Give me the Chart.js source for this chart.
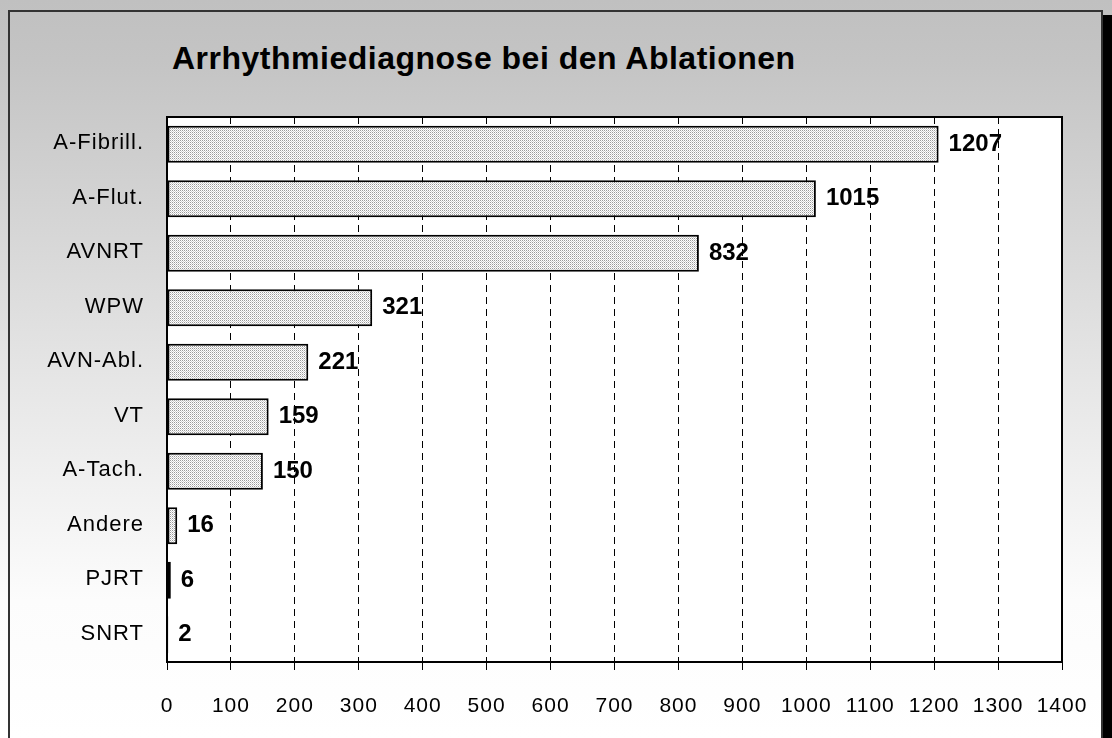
<!DOCTYPE html>
<html>
<head>
<meta charset="utf-8">
<script src="https://cdn.jsdelivr.net/npm/chart.js@4"></script>
<style>
  html, body { margin: 0; padding: 0; }
  body { width: 1112px; height: 738px; overflow: hidden; position: relative;
         background: linear-gradient(to bottom, #c0c0c0 0px, #c4c4c4 60px, #e6e6e6 380px, #fcfcfc 600px, #ffffff 738px); }
  #frame { position: absolute; left: 8px; top: 10px; width: 1091px; height: 740px;
           border: 2px solid #333; border-bottom: none; }
  #shadow { position: absolute; left: 1103px; top: 15px; width: 9px; height: 730px; background: #000; }
  #title { position: absolute; left: 172px; top: 40px; font: bold 32px "Liberation Sans", Arial, sans-serif;
           letter-spacing: 0.5px; color: #000; white-space: nowrap; }
  #wrap { position: absolute; left: 0; top: 0; width: 1112px; height: 738px; }
</style>
</head>
<body>
<div id="frame"></div>
<div id="shadow"></div>
<div id="title">Arrhythmiediagnose bei den Ablationen</div>
<div id="wrap"><canvas id="chart" width="1112" height="738"></canvas></div>
<script>
// Data
const categories = ['A-Fibrill.', 'A-Flut.', 'AVNRT', 'WPW', 'AVN-Abl.', 'VT', 'A-Tach.', 'Andere', 'PJRT', 'SNRT'];
const counts = [1207, 1015, 832, 321, 221, 159, 150, 16, 6, 2];
const xTicks = [0, 100, 200, 300, 400, 500, 600, 700, 800, 900, 1000, 1100, 1200, 1300, 1400];

const FONT = '"Liberation Sans", Arial, sans-serif';

// dotted fill like the original
function makePattern() {
    const p = document.createElement('canvas');
    p.width = 2; p.height = 2;
    const c = p.getContext('2d');
    c.fillStyle = '#ffffff';
    c.fillRect(0, 0, 2, 2);
    c.fillStyle = '#9a9a9a';
    c.fillRect(0, 0, 1, 1);
    c.fillStyle = '#d0d0d0';
    c.fillRect(1, 1, 1, 1);
    return c.createPattern(p, 'repeat');
}

const plotBox = {
    id: 'plotBox',
    beforeDraw(chart) {
        const a = chart.chartArea, ctx = chart.ctx;
        // axis texts in the original are slightly spaced out
        ctx.letterSpacing = '1px';
        ctx.save();
        ctx.fillStyle = '#ffffff';
        ctx.fillRect(a.left, a.top, a.right - a.left, a.bottom - a.top);
        ctx.restore();
    },
    afterDraw(chart) {
        const a = chart.chartArea, ctx = chart.ctx;
        ctx.save();
        ctx.strokeStyle = '#000';
        ctx.lineWidth = 2;
        ctx.strokeRect(a.left, a.top, a.right - a.left, a.bottom - a.top);
        ctx.restore();
    }
};

const valueLabels = {
    id: 'valueLabels',
    afterDatasetsDraw(chart) {
        const ctx = chart.ctx;
        const meta = chart.getDatasetMeta(0);
        ctx.save();
        ctx.letterSpacing = '0px';
        ctx.font = 'bold 24px ' + FONT;
        ctx.fillStyle = '#000';
        ctx.textAlign = 'left';
        ctx.textBaseline = 'middle';
        meta.data.forEach((bar, i) => {
            ctx.fillText(String(counts[i]), bar.x + 10, bar.y);
        });
        ctx.restore();
    }
};

document.addEventListener('DOMContentLoaded', function() {
    const ctx = document.getElementById('chart').getContext('2d');
    new Chart(ctx, {
        type: 'bar',
        data: {
            labels: categories,
            datasets: [{
                data: counts,
                backgroundColor: makePattern(),
                borderColor: '#000',
                borderWidth: 2,
                borderSkipped: false,
                categoryPercentage: 1,
                barPercentage: 0.68
            }]
        },
        options: {
            indexAxis: 'y',
            responsive: false,
            animation: false,
            layout: { padding: { top: 117, right: 50, left: 0, bottom: 0 } },
            plugins: { legend: { display: false }, tooltip: { enabled: false }, title: { display: false } },
            scales: {
                x: {
                    min: 0, max: 1400,
                    afterBuildTicks: axis => { axis.ticks = xTicks.map(v => ({ value: v })); },
                    afterFit: axis => { axis.height = 76; },
                    border: { display: false, dash: [7, 5] },
                    grid: { color: '#000', lineWidth: 1, tickLength: 8,
                            tickColor: '#000', tickBorderDash: [] },
                    ticks: { color: '#000', padding: 24, maxRotation: 0, autoSkip: false,
                             callback: v => String(v),
                             font: { family: FONT, size: 21 } }
                },
                y: {
                    afterFit: axis => { axis.width = 167; },
                    border: { display: false },
                    grid: { display: false, drawTicks: false },
                    ticks: { color: '#000', padding: 23, labelOffset: -1,
                             font: { family: FONT, size: 22 } }
                }
            }
        },
        plugins: [plotBox, valueLabels]
    });
});
</script>
</body>
</html>
